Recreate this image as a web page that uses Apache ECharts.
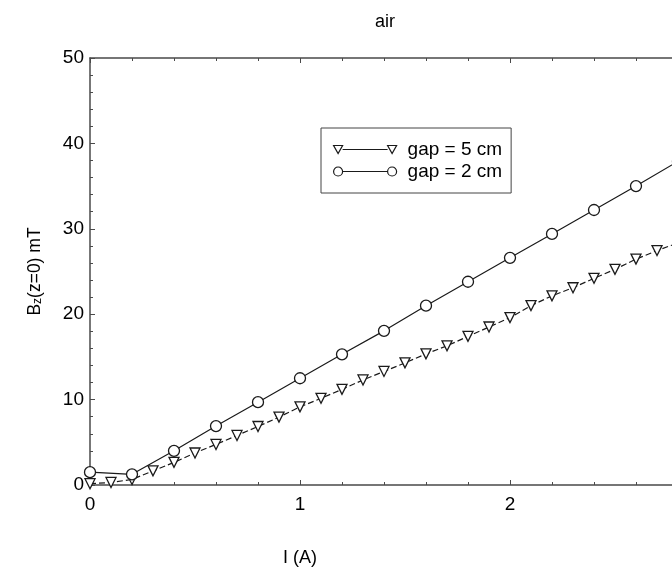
<!DOCTYPE html>
<html>
<head>
<meta charset="utf-8">
<script src="https://cdn.jsdelivr.net/npm/echarts@6/dist/echarts.min.js"></script>
<style>
html,body{margin:0;padding:0;background:#fff;}
#chart{width:672px;height:567px;}
</style>
</head>
<body>
<div id="chart"></div>
<script>
// ---- data ----
var chartTitle = 'air';
var xAxisName = 'I (A)';
var seriesNames = ['gap = 5 cm', 'gap = 2 cm'];
var currentGap5 = [0,0.1,0.2,0.3,0.4,0.5,0.6,0.7,0.8,0.9,1.0,1.1,1.2,1.3,1.4,1.5,1.6,1.7,1.8,1.9,2.0,2.1,2.2,2.3,2.4,2.5,2.6,2.7,2.8];
var bGap5 = [0.15,0.3,0.65,1.65,2.65,3.75,4.75,5.8,6.85,7.95,9.15,10.15,11.2,12.3,13.3,14.3,15.35,16.3,17.4,18.5,19.6,21.0,22.15,23.1,24.2,25.25,26.45,27.45,28.35];
var currentGap2 = [0,0.2,0.4,0.6,0.8,1.0,1.2,1.4,1.6,1.8,2.0,2.2,2.4,2.6,2.8];
var bGap2 = [1.5,1.25,4.0,6.9,9.7,12.5,15.3,18.05,21.0,23.8,26.6,29.4,32.2,35.0,37.9];
var xTicks = [0,1,2,3];
var yTicks = [0,10,20,30,40,50];

function pairs(xs, ys){ return xs.map(function(x,i){ return [x, ys[i]]; }); }

var triIcon = 'path://M0 1 L9 1 L4.5 9 Z M9 5 L54 5 M54 1 L63 1 L58.5 9 Z';
var circIcon = 'path://M0 5 A4.5 4.5 0 1 0 9 5 A4.5 4.5 0 1 0 0 5 Z M9 5 L54 5 M54 5 A4.5 4.5 0 1 0 63 5 A4.5 4.5 0 1 0 54 5 Z';

var fontFam = '"Liberation Sans", Arial, Helvetica, sans-serif';
var axisCol = '#4a4a4a';
var lineCol = '#1a1a1a';
var textCol = '#000';

var chart = echarts.init(document.getElementById('chart'), null, {renderer:'canvas'});
var option = {
  animation: false,
  backgroundColor: '#fff',
  textStyle: {fontFamily: fontFam},
  title: {
    text: chartTitle, left: 370, top: 8,
    textStyle: {fontSize: 18, fontWeight: 'normal', color: textCol, fontFamily: fontFam}
  },
  legend: {
    orient: 'vertical', left: 321, top: 128,
    padding: [11, 9, 11, 12],
    itemGap: 1,
    itemWidth: 63, itemHeight: 10,
    borderColor: '#444', borderWidth: 1,
    textStyle: {fontSize: 19, color: textCol, lineHeight: 21, fontFamily: fontFam, padding: [0,0,0,6]},
    data: [
      {name: seriesNames[0], icon: triIcon, itemStyle: {color: '#fff', borderColor: lineCol, borderWidth: 1.2}},
      {name: seriesNames[1], icon: circIcon, itemStyle: {color: '#fff', borderColor: lineCol, borderWidth: 1.2}}
    ]
  },
  grid: {left: 90, top: 58, width: 630, height: 427, containLabel: false, outerBoundsMode: 'none'},
  xAxis: [{
    type: 'value', min: 0, max: 3, interval: 1, position: 'bottom',
    name: xAxisName, nameLocation: 'middle', nameGap: 64,
    nameTextStyle: {fontSize: 18, color: textCol, padding: [0, 210, 0, 0], fontFamily: fontFam},
    axisLine: {show: true, lineStyle: {color: axisCol, width: 1.5}},
    axisTick: {show: true, inside: true, length: 5, lineStyle: {color: axisCol}},
    minorTick: {show: true, splitNumber: 5, length: 3, lineStyle: {color: axisCol}},
    axisLabel: {fontSize: 19, color: textCol, margin: 10, fontFamily: fontFam,
      formatter: function(v){ return xTicks.indexOf(v) >= 0 ? String(v) : ''; }},
    splitLine: {show: false}
  },{
    type: 'value', min: 0, max: 3, interval: 1, position: 'top',
    axisLine: {show: true, lineStyle: {color: axisCol, width: 1.5}},
    axisTick: {show: true, inside: true, length: 5, lineStyle: {color: axisCol}},
    minorTick: {show: true, splitNumber: 5, length: 3, lineStyle: {color: axisCol}},
    axisLabel: {show: false},
    splitLine: {show: false}
  }],
  yAxis: [{
    type: 'value', min: 0, max: 50, interval: 10,
    name: '{b|B}{s|z}{b|(z=0) mT}', nameLocation: 'middle', nameGap: 46, nameRotate: 90,
    nameTextStyle: {
      color: textCol,
      rich: {
        b: {fontSize: 17.5, color: textCol, fontFamily: fontFam},
        s: {fontSize: 12, color: textCol, fontFamily: fontFam, verticalAlign: 'bottom', padding: [6,0,0,0]}
      }
    },
    axisLine: {show: true, lineStyle: {color: axisCol, width: 1.5}},
    axisTick: {show: true, inside: true, length: 5, lineStyle: {color: axisCol}},
    minorTick: {show: true, splitNumber: 5, length: 3, lineStyle: {color: axisCol}},
    axisLabel: {fontSize: 19, color: textCol, margin: 6, fontFamily: fontFam,
      formatter: function(v){ return yTicks.indexOf(v) >= 0 ? String(v) : ''; }},
    splitLine: {show: false}
  }],
  series: [{
    name: seriesNames[0], type: 'line', xAxisIndex: 0,
    data: pairs(currentGap5, bGap5),
    symbol: 'triangle', symbolRotate: 180, symbolSize: 10,
    lineStyle: {color: lineCol, width: 1.2, type: [6, 3]},
    itemStyle: {color: '#fff', borderColor: lineCol, borderWidth: 1.3},
    z: 3
  },{
    name: seriesNames[1], type: 'line', xAxisIndex: 0,
    data: pairs(currentGap2, bGap2),
    symbol: 'circle', symbolSize: 11,
    lineStyle: {color: lineCol, width: 1.2},
    itemStyle: {color: '#fff', borderColor: lineCol, borderWidth: 1.3},
    z: 4
  }]
};
chart.setOption(option);
</script>
</body>
</html>
